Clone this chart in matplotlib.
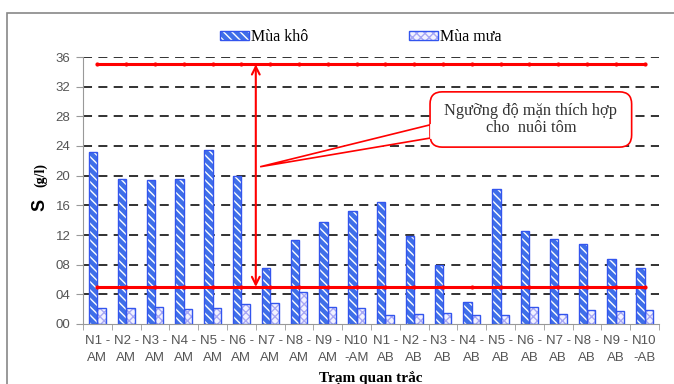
import matplotlib.pyplot as plt
import numpy as np
from matplotlib.patches import Patch, Rectangle, FancyBboxPatch, Polygon
from matplotlib.ticker import FixedLocator

# --- data ---
stations = ['N1 -\nAM', 'N2 -\nAM', 'N3 -\nAM', 'N4 -\nAM', 'N5 -\nAM',
            'N6 -\nAM', 'N7 -\nAM', 'N8 -\nAM', 'N9 -\nAM', 'N10\n-AM',
            'N1 -\nAB', 'N2 -\nAB', 'N3 -\nAB', 'N4 -\nAB', 'N5 -\nAB',
            'N6 -\nAB', 'N7 -\nAB', 'N8 -\nAB', 'N9 -\nAB', 'N10\n-AB']
mua_kho = [23.2, 19.6, 19.4, 19.5, 23.5, 20.0, 7.6, 11.3, 13.8, 15.2,
           16.5, 11.9, 7.9, 2.9, 18.2, 12.5, 11.5, 10.8, 8.8, 7.5]
mua_mua = [2.15, 2.15, 2.3, 2.05, 2.1, 2.7, 2.8, 4.3, 2.3, 2.1,
           1.2, 1.3, 1.5, 1.2, 1.2, 2.3, 1.35, 1.85, 1.8, 1.9]
nguong_tren = 35
nguong_duoi = 5
yticks = [0, 4, 8, 12, 16, 20, 24, 28, 32, 36]

plt.rcParams['hatch.linewidth'] = 1.0
serif = 'Liberation Serif'
sans = 'Liberation Sans'

fig = plt.figure(figsize=(6.74, 3.84), dpi=100)
ax = fig.add_axes([83/674, 1-324/384, 576/674, 267/384])

x = np.arange(len(stations))
w = 0.29
blue = '#3355ee'

# mùa khô: blue with white diagonal stripes
ax.bar(x - w/2, mua_kho, w, color='#3f6fe8', edgecolor='white', hatch='\\\\\\\\', lw=0, zorder=3)
ax.bar(x - w/2, mua_kho, w, fill=False, edgecolor=blue, lw=1.0, zorder=4)
# mùa mưa: pale with dotted pattern
ax.bar(x + w/2, mua_mua, w, color='#f2f2ff', edgecolor='#a8a8f5', hatch='xxxx', lw=0, zorder=3)
ax.bar(x + w/2, mua_mua, w, fill=False, edgecolor=blue, lw=1.0, zorder=4)

# threshold lines
ax.plot(x, [nguong_tren]*len(x), color='red', lw=2.2, marker='o', ms=2, zorder=5)
ax.plot(x, [nguong_duoi]*len(x), color='red', lw=2.2, marker='o', ms=2, zorder=5)

# double arrow
ax.annotate('', xy=(5.5, nguong_tren), xytext=(5.5, nguong_duoi),
            arrowprops=dict(arrowstyle='<->', color='red', lw=1.5,
                            mutation_scale=14, shrinkA=0, shrinkB=0), zorder=6)

# callout
wedge = Polygon([[5.65, 21.2], [11.6, 26.9], [11.6, 25.1]], closed=True,
                facecolor='white', edgecolor='red', lw=1.2, zorder=6)
ax.add_patch(wedge)
box = FancyBboxPatch((11.55, 23.85), 7.0, 7.45,
                     boxstyle='round,pad=0,rounding_size=0.42',
                     mutation_aspect=28.8/7.42,
                     facecolor='white', edgecolor='red', lw=1.2, zorder=7)
ax.add_patch(box)
ax.plot([11.6, 11.6], [25.2, 26.8], color='white', lw=2, zorder=8)
ax.text(15.05, 27.6, 'Ngưỡng độ mặn thích hợp\ncho  nuôi tôm', ha='center', va='center',
        fontsize=11.8, family=serif, color='#333333', linespacing=1.05, zorder=9)

# axes styling
ax.set_xlim(-0.5, 19.5)
ax.set_ylim(0, 36)
ax.set_yticks(yticks)
ax.set_yticklabels(['%02d' % v for v in yticks])
ax.set_xticks(x)
ax.set_xticklabels(stations)
ax.xaxis.set_minor_locator(FixedLocator(np.arange(-0.5, 20, 1)))
ax.tick_params(axis='x', which='major', length=0, pad=8)
ax.tick_params(axis='x', which='minor', length=4, color='#999999')
ax.tick_params(axis='y', length=5, color='#999999', pad=4)
for lab in ax.get_xticklabels() + ax.get_yticklabels():
    lab.set_family(sans)
    lab.set_fontsize(9.5)
    lab.set_color('#555555')
for lab in ax.get_xticklabels():
    lab.set_linespacing(1.5)

for s in ['top', 'right']:
    ax.spines[s].set_visible(False)
ax.spines['left'].set_color('#999999')
ax.spines['bottom'].set_color('#999999')
ax.spines['bottom'].set_zorder(5)

for v in yticks[1:]:
    ax.axhline(v, color='#222222', lw=1.3, ls=(0, (5, 3.5)), zorder=1)

# legend
h1 = (Patch(facecolor='#3f6fe8', edgecolor='white', hatch='\\\\\\\\', lw=0),
      Patch(fill=False, edgecolor=blue, lw=1.0))
h2 = (Patch(facecolor='#f2f2ff', edgecolor='#a8a8f5', hatch='xxxx', lw=0),
      Patch(fill=False, edgecolor=blue, lw=1.0))
fig.legend([h1, h2], ['Mùa khô', 'Mùa mưa'], loc='center', bbox_to_anchor=(0.535, 1-37/384),
           ncol=2, frameon=False, prop={'family': serif, 'size': 11.5},
           handlelength=1.8, handleheight=0.55, handletextpad=0.15, columnspacing=6.3)

# axis labels
fig.text(40/674, 1-205/384, 'S', rotation=90, ha='center', va='center',
         fontsize=13, fontweight='bold', family=sans)
fig.text(41/674, 1-175/384, '(g/l)', rotation=90, ha='center', va='center',
         fontsize=10, fontweight='bold', family=serif)
fig.text(371/674, 1-371/384, 'Trạm quan trắc', ha='center', va='top',
         fontsize=11, fontweight='bold', family=serif)

# outer frame
fig.patches.append(Rectangle((7/674, -0.2), 1.2, 1.2 - 12.5/384, transform=fig.transFigure,
                             fill=False, edgecolor='#888888', lw=1.2))

fig.savefig('out.png', dpi=100)
